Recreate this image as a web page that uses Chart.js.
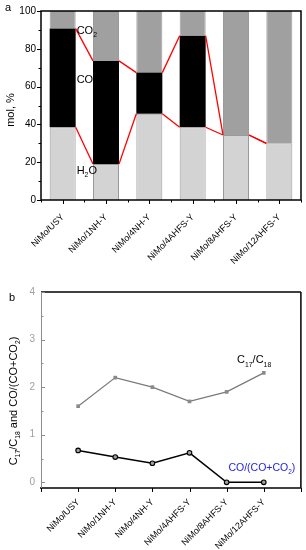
<!DOCTYPE html>
<html>
<head>
<meta charset="utf-8">
<script src="https://cdn.jsdelivr.net/npm/chart.js@4.4.0/dist/chart.umd.min.js"></script>
<style>
  body { margin: 0; background: #fff; }
  #wrapA { position: absolute; left: 0; top: 0; width: 306px; height: 280px; }
  #wrapB { position: absolute; left: 0; top: 280px; width: 306px; height: 270px; }
</style>
</head>
<body>
<div id="wrapA"><canvas id="chartA" width="306" height="280"></canvas></div>
<div id="wrapB"><canvas id="chartB" width="306" height="270"></canvas></div>
<script>
const categories = ['NiMo/USY', 'NiMo/1NH-Y', 'NiMo/4NH-Y', 'NiMo/4AHFS-Y', 'NiMo/8AHFS-Y', 'NiMo/12AHFS-Y'];

// panel a: mol %
const h2oValues = [38.5, 19, 45.6, 38.5, 34.4, 30];
const coValues = [52.2, 54.6, 21.8, 48.4, 0, 0];
const co2Values = [9.3, 26.4, 32.6, 13.1, 65.6, 70];
const molTicks = [0, 20, 40, 60, 80, 100];

// panel b: ratios
const c17c18Values = [1.6, 2.2, 2.0, 1.7, 1.9, 2.3];
const coRatioValues = [0.67, 0.53, 0.40, 0.62, 0, 0];
const ratioTicks = [0, 1, 2, 3, 4];

const FONT = '"Liberation Sans", Arial, sans-serif';

// draw text with subscript parts: parts = [[text, isSub], ...]
function drawRich(ctx, parts, x, y, size, color, align) {
    ctx.save();
    ctx.fillStyle = color;
    ctx.textBaseline = 'alphabetic';
    ctx.textAlign = 'left';
    let total = 0;
    parts.forEach(p => {
        ctx.font = (p[1] ? size * 0.62 : size) + 'px ' + FONT;
        total += ctx.measureText(p[0]).width;
    });
    let cx = x;
    if (align === 'center') cx = x - total / 2;
    if (align === 'right') cx = x - total;
    parts.forEach(p => {
        ctx.font = (p[1] ? size * 0.62 : size) + 'px ' + FONT;
        ctx.fillText(p[0], cx, p[1] ? y + size * 0.3 : y);
        cx += ctx.measureText(p[0]).width;
    });
    ctx.restore();
}

function line(ctx, x1, y1, x2, y2) {
    ctx.beginPath();
    ctx.moveTo(x1, y1);
    ctx.lineTo(x2, y2);
    ctx.stroke();
}

const panelA = {
    id: 'panelA',
    afterDatasetsDraw(chart) {
        const {ctx, chartArea: a, scales: {x, y}} = chart;
        ctx.save();
        // red connectors between segment tops
        ctx.strokeStyle = '#ff0000';
        ctx.lineWidth = 1.3;
        [0, 1].forEach(di => {
            const bars = chart.getDatasetMeta(di).data;
            for (let j = 0; j < bars.length - 1; j++) {
                const b0 = bars[j], b1 = bars[j + 1];
                line(ctx, b0.x + b0.width / 2, b0.y, b1.x - b1.width / 2, b1.y);
            }
        });
        // frame
        ctx.strokeStyle = '#000';
        ctx.lineWidth = 1.5;
        ctx.strokeRect(a.left, a.top, a.right - a.left, a.bottom - a.top);
        ctx.lineWidth = 1;
        for (let v = 0; v <= 100; v += 10) {
            const py = Math.round(y.getPixelForValue(v)) + 0.5;
            line(ctx, a.left, py, a.left - (v % 20 ? 2.5 : 4), py);
        }
        const step = (a.right - a.left) / categories.length;
        for (let i = 0; i <= categories.length; i++) {
            const px = Math.round(a.left + i * step) + 0.5;
            line(ctx, px, a.bottom, px, a.bottom + 2.5);
        }
        categories.forEach((c, i) => {
            const px = Math.round(x.getPixelForValue(i)) + 0.5;
            line(ctx, px, a.bottom, px, a.bottom + 4);
        });
        // annotations
        const lx = chart.getDatasetMeta(0).data[0];
        const tx = lx.x + lx.width / 2 + 1;
        drawRich(ctx, [['CO', false], ['2', true]], tx, y.getPixelForValue(88), 11, '#000');
        drawRich(ctx, [['CO', false]], tx, y.getPixelForValue(62), 11, '#000');
        drawRich(ctx, [['H', false], ['2', true], ['O', false]], tx, y.getPixelForValue(14), 11, '#000');
        // panel letter and axis title
        drawRich(ctx, [['a', false]], 5, 11, 11, '#000');
        ctx.translate(14, 110);
        ctx.rotate(-Math.PI / 2);
        drawRich(ctx, [['mol, %', false]], 0, 0, 11, '#000', 'center');
        ctx.restore();
    }
};

const panelB = {
    id: 'panelB',
    afterDatasetsDraw(chart) {
        const {ctx, chartArea: a, scales: {x, y}} = chart;
        ctx.save();
        // frame: gray left axis, black elsewhere
        ctx.strokeStyle = '#000';
        ctx.lineWidth = 1.5;
        line(ctx, a.left, a.top, a.right, a.top);
        line(ctx, a.right, a.top, a.right, a.bottom);
        line(ctx, a.left - 1, a.bottom, a.right, a.bottom);
        ctx.lineWidth = 1;
        for (let v = 0; v <= 7; v++) {
            const px = Math.round(x.getPixelForValue(v)) + 0.5;
            line(ctx, px, a.bottom, px, a.bottom + 4);
        }
        ctx.strokeStyle = '#8c8c8c';
        line(ctx, a.left + 0.5, a.top, a.left + 0.5, a.bottom);
        for (let v = 0; v <= 4; v += 0.5) {
            const py = Math.round(y.getPixelForValue(v)) + 0.5;
            line(ctx, a.left, py, a.left + (v % 1 ? 2.5 : 4), py);
        }
        // annotations
        drawRich(ctx, [['C', false], ['17', true], ['/C', false], ['18', true]],
            x.getPixelForValue(6.2), y.getPixelForValue(2.5), 11, '#000', 'right');
        drawRich(ctx, [['CO/(CO+CO', false], ['2', true], [')', false]],
            x.getPixelForValue(6.85), y.getPixelForValue(0.24), 10.5, '#2323e6', 'right');
        drawRich(ctx, [['b', false]], 9, 21, 11, '#000');
        ctx.translate(17, 121);
        ctx.rotate(-Math.PI / 2);
        drawRich(ctx, [['C', false], ['17', true], ['/C', false], ['18', true], [' and CO/(CO+CO', false], ['2', true], [')', false]],
            0, 0, 11, '#000', 'center');
        ctx.restore();
    }
};

document.addEventListener('DOMContentLoaded', function() {
    Chart.defaults.font.family = FONT;

    // Panel a: stacked product distribution
    new Chart(document.getElementById('chartA').getContext('2d'), {
        type: 'bar',
        data: {
            labels: categories,
            datasets: [{
                label: 'H2O',
                data: h2oValues,
                backgroundColor: '#d3d3d3',
                borderColor: '#9a9a9a',
                borderWidth: 1
            }, {
                label: 'CO',
                data: coValues,
                backgroundColor: '#000000',
                borderColor: '#000000',
                borderWidth: 0
            }, {
                label: 'CO2',
                data: co2Values,
                backgroundColor: '#a0a0a0',
                borderColor: '#9a9a9a',
                borderWidth: 1
            }]
        },
        options: {
            responsive: false,
            animation: false,
            layout: { padding: { top: 7, right: 5, left: 0, bottom: 0 } },
            datasets: { bar: { categoryPercentage: 1, barPercentage: 0.6 } },
            plugins: { legend: { display: false }, tooltip: { enabled: false } },
            scales: {
                x: {
                    stacked: true,
                    offset: true,
                    grid: { display: false, drawTicks: false },
                    border: { display: false },
                    ticks: { minRotation: 45, maxRotation: 45, autoSkip: false, padding: 12, color: '#000', font: { size: 9 } },
                    afterFit: s => { s.height = 80; }
                },
                y: {
                    stacked: true,
                    min: 0,
                    max: 100,
                    grid: { display: false, drawTicks: false },
                    border: { display: false },
                    afterBuildTicks: s => { s.ticks = molTicks.map(v => ({ value: v })); },
                    ticks: { padding: 5, color: '#000', font: { size: 10 } },
                    afterFit: s => { s.width = 41; }
                }
            }
        },
        plugins: [panelA]
    });

    // Panel b: ratios
    new Chart(document.getElementById('chartB').getContext('2d'), {
        type: 'line',
        data: {
            datasets: [{
                label: 'C17/C18',
                data: c17c18Values.map((v, i) => ({ x: i + 1, y: v })),
                borderColor: '#7a7a7a',
                backgroundColor: '#8a8a8a',
                borderWidth: 1.2,
                pointStyle: 'rect',
                pointRadius: 2.6,
                pointBorderWidth: 0
            }, {
                label: 'CO/(CO+CO2)',
                data: coRatioValues.map((v, i) => ({ x: i + 1, y: v })),
                borderColor: '#000000',
                backgroundColor: '#a0a0a0',
                borderWidth: 1.5,
                pointStyle: 'circle',
                pointRadius: 2.3,
                pointBorderWidth: 1.1
            }]
        },
        options: {
            responsive: false,
            animation: false,
            layout: { padding: { top: 10, right: 5, left: 0, bottom: 0 } },
            plugins: { legend: { display: false }, tooltip: { enabled: false } },
            scales: {
                x: {
                    type: 'linear',
                    min: 0,
                    max: 7,
                    grid: { display: false, drawTicks: false },
                    border: { display: false },
                    afterBuildTicks: s => { s.ticks = categories.map((c, i) => ({ value: i + 1 })); },
                    ticks: {
                        minRotation: 45, maxRotation: 45, autoSkip: false, padding: 9, color: '#000', font: { size: 9 },
                        callback: v => categories[v - 1]
                    },
                    afterFit: s => { s.height = 62; }
                },
                y: {
                    min: -0.12,
                    max: 4,
                    grid: { display: false, drawTicks: false },
                    border: { display: false },
                    afterBuildTicks: s => { s.ticks = ratioTicks.map(v => ({ value: v })); },
                    ticks: { padding: 6, color: '#a0a0a0', font: { size: 10 } },
                    afterFit: s => { s.width = 41; }
                }
            }
        },
        plugins: [panelB]
    });
});
</script>
</body>
</html>
